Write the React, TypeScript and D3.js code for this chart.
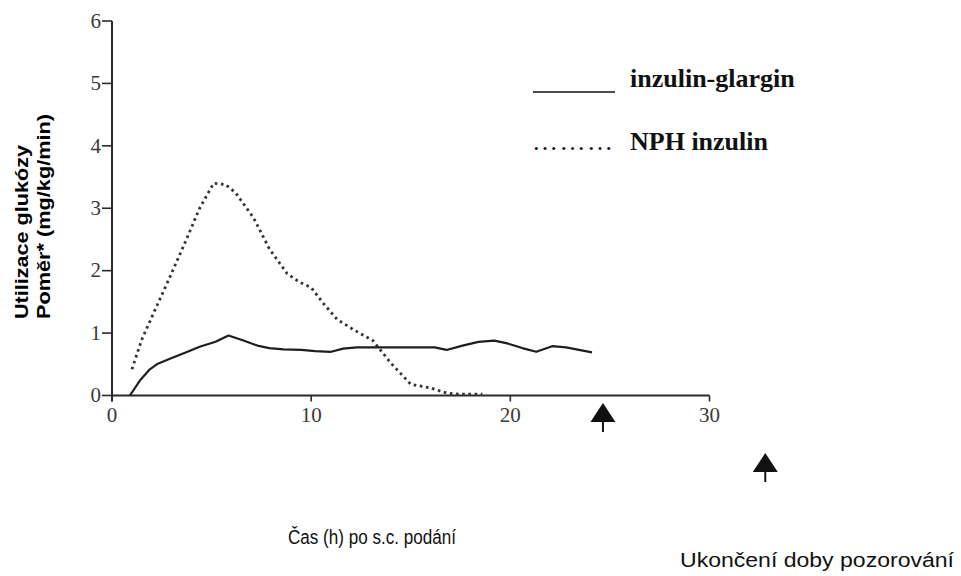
import React from "react";
import * as d3 from "d3";

const xTicks = [0, 10, 20, 30];
const yTicks = [0, 1, 2, 3, 4, 5, 6];

const glarginX = [0.9, 1.4, 1.9, 2.3, 3.0, 3.7, 4.4, 5.2, 5.85, 6.6, 7.3, 7.9, 8.6, 9.5, 10.2, 11.0, 11.6, 12.3, 14.0, 16.2, 16.8, 17.6, 18.4, 19.2, 19.9, 20.6, 21.3, 22.1, 22.8, 24.1];
const glarginY = [0.0, 0.24, 0.42, 0.51, 0.6, 0.69, 0.78, 0.86, 0.96, 0.88, 0.8, 0.76, 0.74, 0.73, 0.71, 0.7, 0.75, 0.77, 0.77, 0.77, 0.73, 0.8, 0.86, 0.88, 0.83, 0.76, 0.7, 0.79, 0.77, 0.69];

const nphX = [1.0, 1.5, 2.2, 2.7, 3.6, 4.4, 5.1, 5.7, 6.2, 7.1, 7.9, 8.8, 9.4, 10.0, 10.6, 11.3, 12.1, 13.1, 14.0, 15.0, 16.0, 16.8, 17.5, 18.6];
const nphY = [0.42, 0.9, 1.4, 1.75, 2.4, 3.0, 3.4, 3.38, 3.25, 2.85, 2.35, 1.95, 1.82, 1.73, 1.48, 1.22, 1.06, 0.88, 0.52, 0.18, 0.12, 0.04, 0.02, 0.02];

const arrowX = [24.65, 32.8];

const legendLabels = ["inzulin-glargin", "NPH inzulin"];
const yLabel = ["Utilizace glukózy", "Poměr* (mg/kg/min)"];
const xLabel = "Čas (h) po s.c. podání";
const endLabel = "Ukončení doby pozorování";

export default function App() {
  const x = d3.scaleLinear().domain([0, 30]).range([112, 709.5]);
  const y = d3.scaleLinear().domain([0, 6]).range([395.5, 21]);
  const line = d3
    .line<[number, number]>()
    .x((d) => x(d[0]))
    .y((d) => y(d[1]));
  const gl: [number, number][] = glarginX.map((v, i) => [v, glarginY[i]]);
  const np: [number, number][] = nphX.map((v, i) => [v, nphY[i]]);
  const axisColor = "#2a2a2a";
  const tickColor = "#3a3a3a";
  const serif = "'Liberation Serif', 'DejaVu Serif', serif";
  const sans = "'Liberation Sans', Arial, sans-serif";
  const arrowY = [403, 453];

  return (
    <svg
      width={961}
      height={576}
      style={{ position: "absolute", left: 0, top: 0, background: "#fff" }}
    >
      <rect x={0} y={0} width={961} height={576} fill="#fff" />
      {/* axes */}
      <line x1={x(0)} x2={x(0)} y1={y(6)} y2={y(0) + 6} stroke={axisColor} strokeWidth={2} />
      <line x1={x(0)} x2={x(30)} y1={y(0)} y2={y(0)} stroke={axisColor} strokeWidth={2} />
      {yTicks.map((t) => (
        <g key={"y" + t}>
          <line x1={x(0) - 10} x2={x(0)} y1={y(t)} y2={y(t)} stroke={axisColor} strokeWidth={1.6} />
          <text
            x={x(0) - 11}
            y={y(t) + 2}
            textAnchor="end"
            dominantBaseline="middle"
            fontFamily={serif}
            fontSize={21}
            fill={tickColor}
          >
            {t}
          </text>
        </g>
      ))}
      {xTicks.map((t) => (
        <g key={"x" + t}>
          <line x1={x(t)} x2={x(t)} y1={y(0)} y2={y(0) + 6} stroke={axisColor} strokeWidth={1.6} />
          <text
            x={x(t)}
            y={y(0) + 26}
            textAnchor="middle"
            fontFamily={serif}
            fontSize={21}
            fill={tickColor}
          >
            {t}
          </text>
        </g>
      ))}
      {/* series */}
      <path d={line(np) || ""} fill="none" stroke="#333" strokeWidth={2.8} strokeDasharray="2.6 3.6" />
      <path d={line(gl) || ""} fill="none" stroke="#1e1e1e" strokeWidth={2.2} strokeLinejoin="round" />
      {/* arrows */}
      {arrowX.map((a, i) => {
        const cx = x(a);
        const top = arrowY[i];
        return (
          <g key={"a" + i}>
            <line x1={cx} x2={cx} y1={top + 15} y2={top + 29} stroke="#111" strokeWidth={2} />
            <path d={`M${cx},${top} L${cx + 12.5},${top + 19} L${cx - 12.5},${top + 19} Z`} fill="#111" />
          </g>
        );
      })}
      {/* legend */}
      <line x1={533} x2={615} y1={92} y2={92} stroke="#111" strokeWidth={1.4} />
      <text x={630} y={87} fontFamily={serif} fontWeight="bold" fontSize={26} fill="#111">
        {legendLabels[0]}
      </text>
      <text
        x={532}
        y={150}
        fontFamily={serif}
        fontSize={26}
        fill="#111"
        textLength={81}
        lengthAdjust="spacing"
      >
        ………
      </text>
      <text x={630} y={150} fontFamily={serif} fontWeight="bold" fontSize={26} fill="#111">
        {legendLabels[1]}
      </text>
      {/* y label */}
      <text
        transform="translate(28,319) rotate(-90)"
        fontFamily={sans}
        fontWeight="bold"
        fontSize={19}
        fill="#000"
        textLength={174}
        lengthAdjust="spacingAndGlyphs"
      >
        {yLabel[0]}
      </text>
      <text
        transform="translate(50,319) rotate(-90)"
        fontFamily={sans}
        fontWeight="bold"
        fontSize={19}
        fill="#000"
        textLength={205}
        lengthAdjust="spacingAndGlyphs"
      >
        {yLabel[1]}
      </text>
      {/* x label */}
      <text
        x={288}
        y={544}
        fontFamily={sans}
        fontSize={20}
        fill="#111"
        textLength={168}
        lengthAdjust="spacingAndGlyphs"
      >
        {xLabel}
      </text>
      <text
        x={680}
        y={567}
        fontFamily={sans}
        fontSize={20}
        fill="#111"
        textLength={274}
        lengthAdjust="spacingAndGlyphs"
      >
        {endLabel}
      </text>
    </svg>
  );
}
